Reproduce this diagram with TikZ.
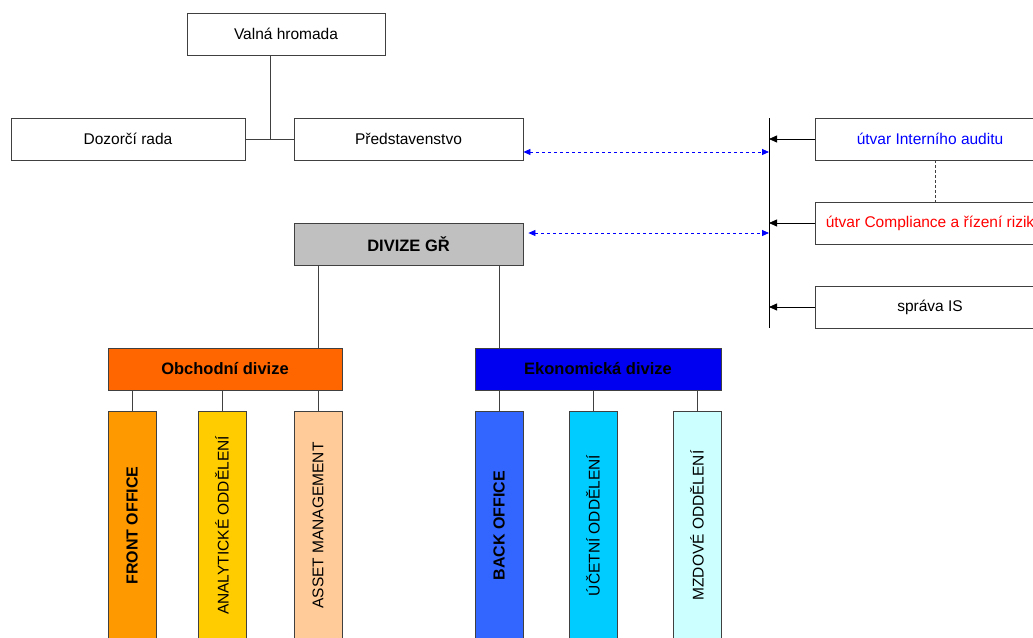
\documentclass[tikz,border=0pt]{standalone}
\usepackage{fontspec}
\setmainfont{Liberation Sans}
\usepackage{graphicx}
\usepackage{xcolor}
\usetikzlibrary{positioning,arrows.meta}

\definecolor{edge}{HTML}{404040}
\definecolor{grgray}{HTML}{C0C0C0}
\definecolor{obchod}{HTML}{FF6600}
\definecolor{ekonom}{HTML}{0000F0}
\definecolor{front}{HTML}{FF9900}
\definecolor{analyt}{HTML}{FFCC00}
\definecolor{asset}{HTML}{FFCC99}
\definecolor{back}{HTML}{3366FF}
\definecolor{ucet}{HTML}{00CCFF}
\definecolor{mzdy}{HTML}{CCFFFF}

\begin{document}
\begin{tikzpicture}[x=1pt,y=-1pt,
    box/.style={draw=edge, line width=0.8pt, minimum height=42pt, inner sep=0pt,
        font=\fontsize{15.5}{18}\selectfont},
    head/.style={box, font=\fontsize{16.5}{19}\selectfont\bfseries},
    unit/.style={box, minimum width=48pt, minimum height=229pt},
    link/.style={draw=edge, line width=0.8pt},
    tip/.style={-{Triangle[length=8pt,width=7pt]}, black, line width=0.8pt},
    rel/.style={{Triangle[length=7pt,width=6pt]}-{Triangle[length=7pt,width=6pt]},
        blue, dashed, line width=0.8pt}]
    \useasboundingbox (0,0) rectangle (1033,637);

    % Top level
    \node[box, minimum width=198pt] (valna) at (286,34) {Valná hromada};
    \node[box, minimum width=234pt] (dozor) at (128,139) {Dozorčí rada};
    \node[box, minimum width=229pt] (pred) at (408.5,139) {Představenstvo};
    \node[head, minimum width=229pt, fill=grgray] (gr) at (408.5,244) {DIVIZE GŘ};

    \draw[link] (dozor.east) -- (pred.west);
    \coordinate (j) at (270,139);
    \draw[link] (j) -- (j |- valna.south);

    % Staff units on the right
    \coordinate (vtop) at (769,118);
    \coordinate (vbot) at (769,328);
    \draw[black, line width=0.8pt] (vtop) -- (vbot);

    \node[box, minimum width=230pt, text=blue] (audit) at (930,139) {útvar Interního auditu};
    \node[box, minimum width=230pt, text=red] (compl) at (930,223) {útvar Compliance a řízení rizik};
    \node[box, minimum width=230pt] (spravais) at (930,307) {správa IS};

    \draw[tip] (audit.west) -- (audit.west -| vtop);
    \draw[tip] (compl.west) -- (compl.west -| vtop);
    \draw[tip] (spravais.west) -- (spravais.west -| vtop);
    \draw[link, dash pattern=on 3pt off 2pt] ([xshift=5pt]audit.south) -- ([xshift=5pt]compl.north);

    \draw[rel] ([yshift=-13pt]pred.east) -- ([yshift=-13pt]pred.east -| vtop);
    \draw[rel] ([xshift=5pt,yshift=11pt]gr.east) -- ([yshift=11pt]gr.east -| vtop);

    % Divisions
    \node[head, minimum width=234pt, fill=obchod] (obch) at (225,369) {Obchodní divize};
    \node[head, minimum width=246pt, fill=ekonom] (ekon) at (598,369) {Ekonomická divize};

    % Departments
    \node[unit, fill=front, font=\fontsize{16}{19}\selectfont\bfseries] (fo) at (132,525.5) {\rotatebox{90}{FRONT OFFICE}};
    \node[unit, fill=analyt] (anal) at (222,525.5) {\rotatebox{90}{ANALYTICKÉ ODDĚLENÍ}};
    \node[unit, fill=asset] (am) at (318,525.5) {\rotatebox{90}{ASSET MANAGEMENT}};
    \node[unit, fill=back, font=\fontsize{16}{19}\selectfont\bfseries] (bo) at (499,525.5) {\rotatebox{90}{BACK OFFICE}};
    \node[unit, fill=ucet] (ucto) at (593,525.5) {\rotatebox{90}{ÚČETNÍ ODDĚLENÍ}};
    \node[unit, fill=mzdy] (mzd) at (697,525.5) {\rotatebox{90}{MZDOVÉ ODDĚLENÍ}};

    \draw[link] (gr.south -| am) -- (obch.north -| am);
    \draw[link] (gr.south -| bo) -- (ekon.north -| bo);

    \foreach \d in {fo,anal,am} \draw[link] (\d.north) -- (\d.north |- obch.south);
    \foreach \d in {bo,ucto,mzd} \draw[link] (\d.north) -- (\d.north |- ekon.south);
\end{tikzpicture}
\end{document}
